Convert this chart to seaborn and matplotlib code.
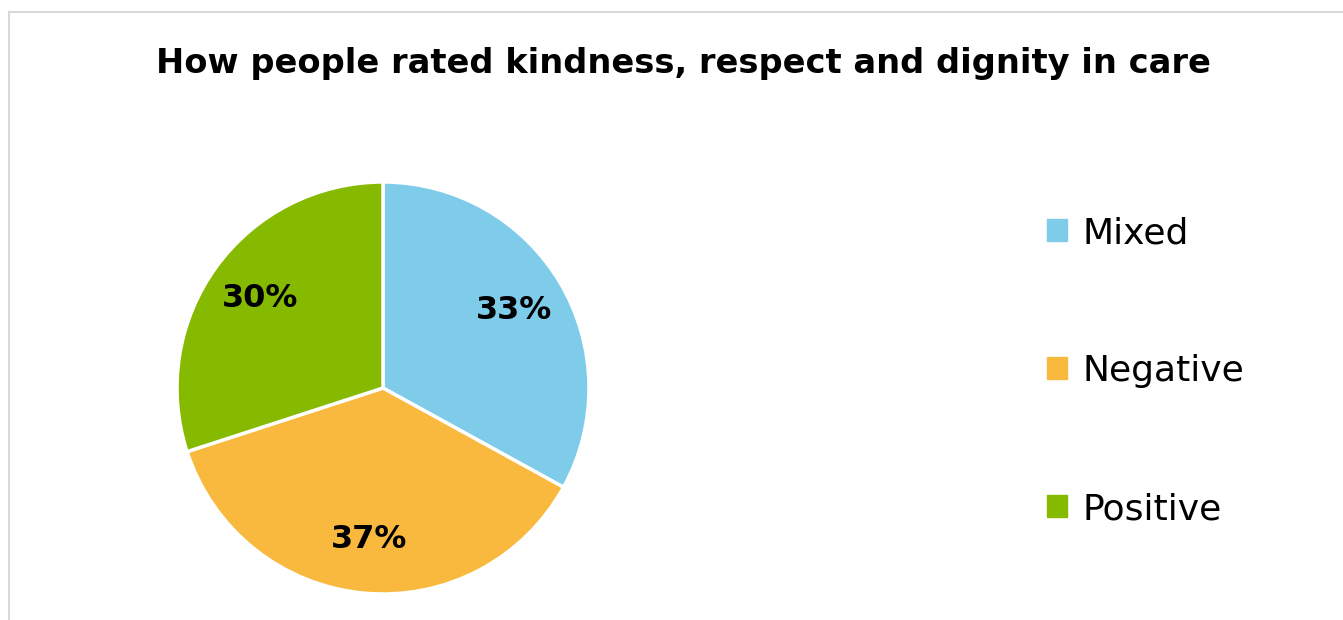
import matplotlib
matplotlib.use("Agg")
import matplotlib.pyplot as plt
import seaborn as sns
from matplotlib.patches import Rectangle, Patch

categories = ["Mixed", "Negative", "Positive"]
values = [33, 37, 30]
colors = ["#7ECBEA", "#F9B93F", "#86BA00"]
title = "How people rated kindness, respect and dignity in care"

sns.set_theme(style="white")
plt.rcParams["font.family"] = ["DejaVu Sans"]

W, H = 1343, 620
fig = plt.figure(figsize=(W / 100, H / 100), dpi=100)
fig.patch.set_facecolor("white")

# outer light border
fig.add_artist(Rectangle((9 / W, -0.1), 2.0, 1 - 12 / H + 0.1, transform=fig.transFigure,
                         fill=False, edgecolor="#D9D9D9", linewidth=1.5))

cx, cy, r = 383, 388, 206
ax = fig.add_axes([(cx - r) / W, (H - cy - r) / H, 2 * r / W, 2 * r / H])
palette = sns.color_palette(colors)
wedges, texts, autotexts = ax.pie(
    values, colors=palette, startangle=90, counterclock=False,
    autopct=lambda p: f"{p:.0f}%", pctdistance=0.74, radius=1,
    wedgeprops=dict(edgecolor="white", linewidth=2.5),
    textprops=dict(fontsize=23, fontweight="bold", color="black"))
ax.set_xlim(-1.0, 1.0)
ax.set_ylim(-1.0, 1.0)
ax.set_aspect("equal")
ax.axis("off")

fig.text(683 / W, 1 - 63 / H, title, ha="center", va="center",
         fontsize=24.2, fontweight="bold", color="black")

handles = [Patch(facecolor=c, edgecolor=c, label=l) for c, l in zip(palette, categories)]
leg = fig.legend(handles=handles, loc="center left", bbox_to_anchor=(1047 / W, 1 - 371 / H),
                 frameon=False, fontsize=26, handlelength=0.55, handleheight=0.55,
                 handletextpad=0.42, labelspacing=2.88, borderaxespad=0, borderpad=0)
for t in leg.get_texts():
    t.set_color("black")

fig.savefig("out.png", dpi=100, facecolor="white")
